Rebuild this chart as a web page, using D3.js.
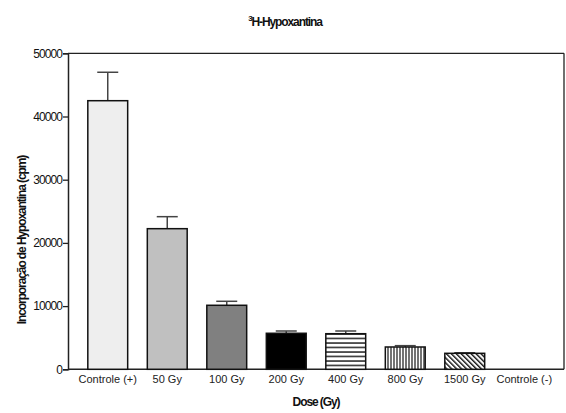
<!DOCTYPE html>
<html><head><meta charset="utf-8">
<script src="https://cdn.jsdelivr.net/npm/d3@7"></script>
<style>body{margin:0;background:#fff;} svg{display:block;}</style>
</head><body>
<script>
const categories = ["Controle (+)","50 Gy","100 Gy","200 Gy","400 Gy","800 Gy","1500 Gy","Controle (-)"];
const means = [42500, 22250, 10130, 5700, 5630, 3530, 2530, 0];
const errors = [4500, 1900, 630, 360, 430, 210, 90, 0];
const yTicks = [0, 10000, 20000, 30000, 40000, 50000];
const fills = ["#eeeeee","#c0c0c0","#808080","#000000","url(#hstripe)","url(#vstripe)","url(#dstripe)","none"];

const W = 566, H = 413;
const svg = d3.select("body").append("svg").attr("width", W).attr("height", H);
const defs = svg.append("defs");
const hp = defs.append("pattern").attr("id","hstripe").attr("patternUnits","userSpaceOnUse").attr("width",6).attr("height",4.5);
hp.append("rect").attr("width",6).attr("height",4.5).attr("fill","#fff");
hp.append("line").attr("x1",0).attr("x2",6).attr("y1",1).attr("y2",1).attr("stroke","#000").attr("stroke-width",1.3);
const vp = defs.append("pattern").attr("id","vstripe").attr("patternUnits","userSpaceOnUse").attr("width",3).attr("height",6);
vp.append("rect").attr("width",3).attr("height",6).attr("fill","#fff");
vp.append("line").attr("x1",1).attr("x2",1).attr("y1",0).attr("y2",6).attr("stroke","#000").attr("stroke-width",1.1);
const dp = defs.append("pattern").attr("id","dstripe").attr("patternUnits","userSpaceOnUse").attr("width",3.5).attr("height",3.5).attr("patternTransform","rotate(45)");
dp.append("rect").attr("width",3.5).attr("height",3.5).attr("fill","#fff");
dp.append("line").attr("x1",0).attr("x2",3.5).attr("y1",1).attr("y2",1).attr("stroke","#000").attr("stroke-width",1.3);

const x0 = 68, x1 = 564, yTop = 53.3, yBot = 369.3;
const x = d3.scaleBand().domain(categories).range([x0, x1]).paddingInner(0.33).paddingOuter(0.333);
const y = d3.scaleLinear().domain([0, 50000]).range([yBot, yTop]);

// Box
svg.append("line").attr("x1",x0).attr("x2",x1).attr("y1",yTop).attr("y2",yTop).attr("stroke","#222").attr("stroke-width",1.3);
svg.append("line").attr("x1",x1).attr("x2",x1).attr("y1",yTop).attr("y2",yBot).attr("stroke","#222").attr("stroke-width",1.3);

// Y axis
const yAxis = svg.append("g").attr("transform",`translate(${x0},0)`)
  .call(d3.axisLeft(y).tickValues(yTicks).tickFormat(d3.format("d")).tickSize(5).tickPadding(1));
yAxis.select(".domain").attr("stroke","#222").attr("stroke-width",1.5);
yAxis.selectAll(".tick line").attr("stroke","#222").attr("stroke-width",1.3);
yAxis.selectAll(".tick text").attr("font-family","Liberation Sans, Arial, sans-serif").attr("font-size",12).attr("letter-spacing",-0.9).attr("fill","#111");

// X axis
const xAxis = svg.append("g").attr("transform",`translate(0,${yBot})`)
  .call(d3.axisBottom(x).tickSize(0).tickPadding(6));
xAxis.select(".domain").remove();
svg.append("line").attr("x1",x0).attr("x2",x1).attr("y1",yBot).attr("y2",yBot).attr("stroke","#222").attr("stroke-width",1.5);
xAxis.selectAll(".tick text").attr("font-family","Liberation Sans, Arial, sans-serif").attr("font-size",11).attr("fill","#222");

// Error bars
const eb = svg.append("g");
categories.forEach((c,i)=>{
  if (errors[i] <= 0) return;
  const cx = x(c) + x.bandwidth()/2;
  eb.append("line").attr("x1",cx).attr("x2",cx).attr("y1",y(means[i])).attr("y2",y(means[i]+errors[i])).attr("stroke","#444").attr("stroke-width",1.5);
  eb.append("line").attr("x1",cx-10.5).attr("x2",cx+10.5).attr("y1",y(means[i]+errors[i])).attr("y2",y(means[i]+errors[i])).attr("stroke","#444").attr("stroke-width",1.5);
});

// Bars
svg.append("g").selectAll("rect").data(categories.filter((c,i)=>means[i]>0)).join("rect")
  .attr("x", d=>x(d)).attr("width", x.bandwidth())
  .attr("y", d=>y(means[categories.indexOf(d)]))
  .attr("height", d=>yBot - y(means[categories.indexOf(d)]))
  .attr("fill", d=>fills[categories.indexOf(d)])
  .attr("stroke","#111").attr("stroke-width",1.5);

// Title
const t = svg.append("text").attr("x",285).attr("y",26).attr("text-anchor","middle")
  .attr("font-family","Liberation Sans, Arial, sans-serif").attr("font-weight","bold").attr("font-size",12).attr("letter-spacing",-1.1).attr("fill","#111");
t.append("tspan").attr("font-size",8).attr("dy",-5).text("3");
t.append("tspan").attr("dy",5).text("H-Hypoxantina");

// Axis titles
svg.append("text").attr("x",316).attr("y",406).attr("text-anchor","middle")
  .attr("font-family","Liberation Sans, Arial, sans-serif").attr("font-weight","bold").attr("font-size",12).attr("letter-spacing",-1.1).attr("fill","#111")
  .text("Dose (Gy)");
svg.append("text").attr("transform","translate(26,240) rotate(-90)").attr("text-anchor","middle")
  .attr("font-family","Liberation Sans, Arial, sans-serif").attr("font-weight","bold").attr("font-size",12).attr("letter-spacing",-1.1).attr("fill","#111")
  .text("Incorporação de Hypoxantina (cpm)");
</script>
</body></html>
